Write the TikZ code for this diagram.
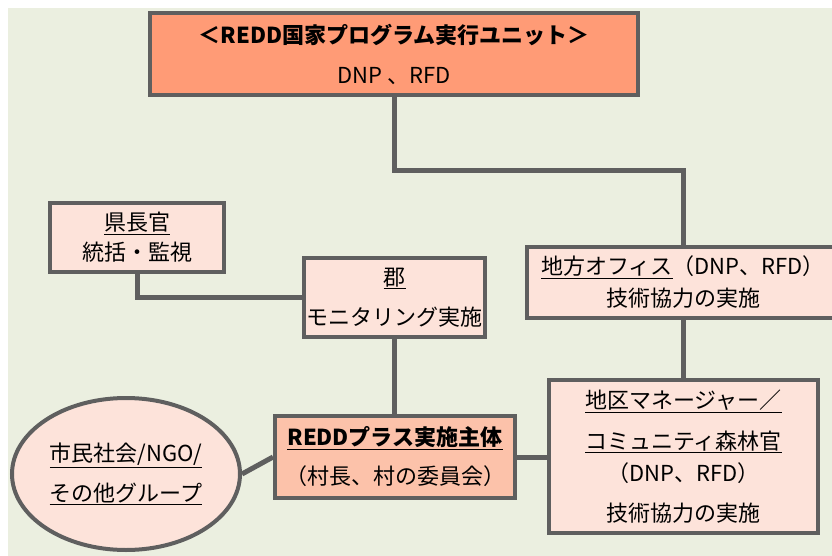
\documentclass[tikz,border=0pt]{standalone}
\usepackage{fontspec}
\setmainfont{Noto Sans CJK JP}
\usepackage{tikz}
\usetikzlibrary{shapes.geometric}
\usepackage{xcolor}

\definecolor{bgGreen}{HTML}{EBEFE0}
\definecolor{edgeGray}{HTML}{5F5F5F}
\definecolor{unitOrange}{HTML}{FF9B76}
\definecolor{paleRose}{HTML}{FDE3DA}
\definecolor{actorSalmon}{HTML}{FCC2AA}

\begin{document}
\begin{tikzpicture}[
  x=1pt,y=-1pt,
  font=\fontsize{22}{30}\selectfont,
  every node/.style={align=center,inner sep=0pt},
  unitBox/.style={draw=edgeGray,line width=4pt,rectangle,fill=unitOrange},
  paleBox/.style={draw=edgeGray,line width=4pt,rectangle,fill=paleRose},
  actorBox/.style={draw=edgeGray,line width=4pt,rectangle,fill=actorSalmon},
  groupEllipse/.style={draw=edgeGray,line width=4pt,ellipse,fill=paleRose},
  link/.style={-,line width=5pt,edgeGray}]

  % canvas
  \useasboundingbox (0,0) rectangle (832,556);
  \fill[bgGreen] (8,8) rectangle (832,556);

  % boxes
  \node[unitBox,minimum width=488pt,minimum height=82pt] (unit) at (394,54)
    {\textbf{＜REDD国家プログラム実行ユニット＞}\\[10pt]DNP 、RFD};
  \node[paleBox,minimum width=174pt,minimum height=69pt] (governor) at (137,237.5)
    {\underline{県長官}\\統括・監視};
  \node[paleBox,minimum width=181pt,minimum height=79pt] (district) at (394.5,297.5)
    {\underline{郡}\\[10pt]モニタリング実施};
  \node[paleBox,minimum width=312pt,minimum height=71pt] (regional) at (683,282.5)
    {\underline{地方オフィス}（DNP、RFD）\\[2pt]技術協力の実施};
  \node[actorBox,minimum width=240pt,minimum height=82pt] (actor) at (395,457)
    {\textbf{\underline{REDDプラス実施主体}}\\[9pt]（村長、村の委員会）};
  \node[paleBox,minimum width=269pt,minimum height=153pt] (manager) at (683.5,456.5)
    {\underline{地区マネージャー／}\\[11pt]\underline{コミュニティ森林官}\\[2pt]（DNP、RFD）\\[10pt]技術協力の実施};
  \node[groupEllipse,minimum width=228pt,minimum height=152pt] (civil) at (126,474)
    {\underline{市民社会/NGO/}\\[10pt]\underline{その他グループ}};

  % connectors
  \draw[link] (unit.south) -- (394,171) -| (regional.north);
  \draw[link] (governor.south) |- (district.west);
  \draw[link] (district.south) -- (district.south |- actor.north);
  \draw[link] (manager.north |- regional.south) -- (manager.north);
  \draw[link] (actor.east) -- (manager.west |- actor.east);
  \draw[link] (civil.east) -- (actor.west);
\end{tikzpicture}
\end{document}
